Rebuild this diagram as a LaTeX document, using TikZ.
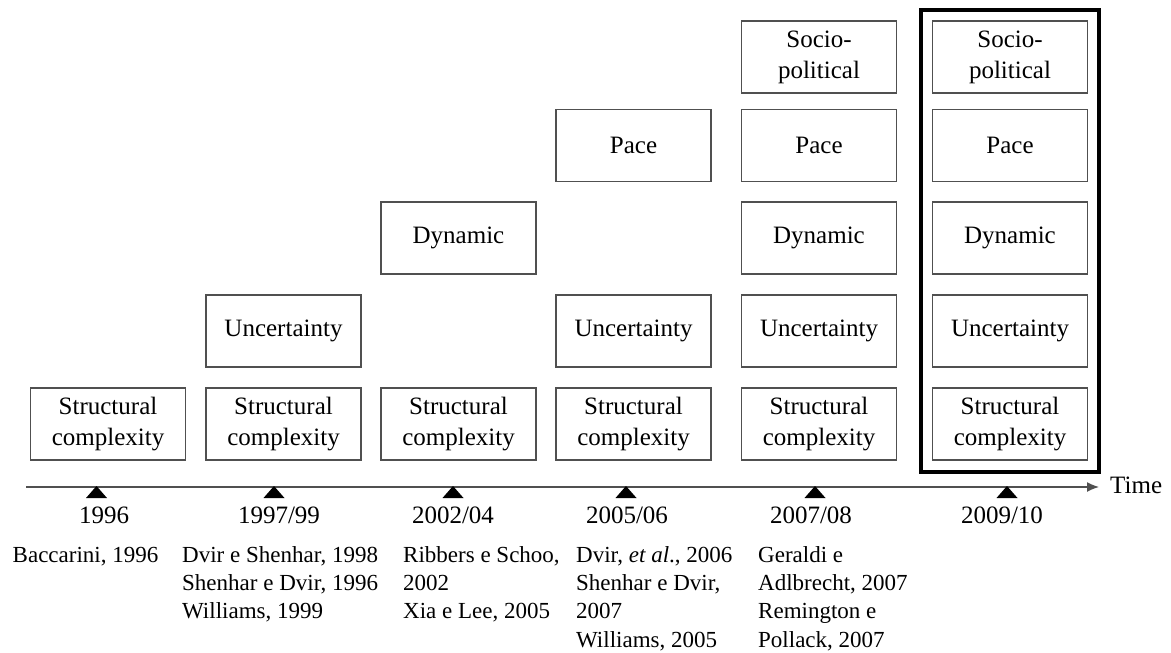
\documentclass[tikz,border=0pt]{standalone}
\usepackage{fontspec}
\setmainfont{Liberation Serif}
\usetikzlibrary{arrows.meta}
\definecolor{boxgray}{HTML}{505050}
\begin{document}
\begin{tikzpicture}[x=1pt,y=-1pt,
  box/.style={draw=boxgray, line width=1.4pt, minimum width=155pt, minimum height=72pt,
    inner sep=0pt, align=center, font=\fontsize{25}{31}\selectfont},
  yearlbl/.style={font=\fontsize{25}{30}\selectfont, anchor=base, inner sep=0pt},
  reflbl/.style={font=\fontsize{23}{28}\selectfont, anchor=base west, inner sep=0pt},
  tick/.style={fill=black},
  frame/.style={draw=black, line width=3.4pt},
  axis/.style={draw=boxgray, line width=1.4pt, -{Latex[length=12pt,width=10pt]}}]
\useasboundingbox (0,0) rectangle (1171,653);

% frame around last column
\draw[frame] (921,10) rectangle (1099,472);

% column 1
\node[box] (s1) at (108,424) {Structural\\complexity};
% column 2
\node[box] (s2) at (283.5,424) {Structural\\complexity};
\node[box] (u2) at (283.5,331) {Uncertainty};
% column 3
\node[box] (s3) at (458.5,424) {Structural\\complexity};
\node[box] (d3) at (458.5,238) {Dynamic};
% column 4
\node[box] (s4) at (633.5,424) {Structural\\complexity};
\node[box] (u4) at (633.5,331) {Uncertainty};
\node[box] (p4) at (633.5,145.5) {Pace};
% column 5
\node[box] (s5) at (819,424) {Structural\\complexity};
\node[box] (u5) at (819,331) {Uncertainty};
\node[box] (d5) at (819,238) {Dynamic};
\node[box] (p5) at (819,145.5) {Pace};
\node[box] (o5) at (819,57) {Socio-\\political};
% column 6
\node[box] (s6) at (1010,424) {Structural\\complexity};
\node[box] (u6) at (1010,331) {Uncertainty};
\node[box] (d6) at (1010,238) {Dynamic};
\node[box] (p6) at (1010,145.5) {Pace};
\node[box] (o6) at (1010,57) {Socio-\\political};

% time axis
\coordinate (ax0) at (26,487);
\coordinate (ax1) at (1099,487);
\draw[axis] (ax0) -- (ax1);
\node[font=\fontsize{25}{30}\selectfont, anchor=base west, inner sep=0pt] (time) at (1110,493) {Time};

% ticks
\foreach \x in {96.5,274,453,626,815,1007}{
  \fill[tick] (\x,486) -- (\x+10.5,498) -- (\x-10.5,498) -- cycle;
}

% years
\node[yearlbl] (y1) at (104,523) {1996};
\node[yearlbl] (y2) at (279,523) {1997/99};
\node[yearlbl] (y3) at (453,523) {2002/04};
\node[yearlbl] (y4) at (627,523) {2005/06};
\node[yearlbl] (y5) at (811,523) {2007/08};
\node[yearlbl] (y6) at (1002,523) {2009/10};

% references
\node[reflbl] (r1a) at (12.5,562) {Baccarini, 1996};

\node[reflbl] (r2a) at (182,562) {Dvir e Shenhar, 1998};
\node[reflbl] (r2b) at (182,590) {Shenhar e Dvir, 1996};
\node[reflbl] (r2c) at (182,618) {Williams, 1999};

\node[reflbl] (r3a) at (403,562) {Ribbers e Schoo,};
\node[reflbl] (r3b) at (403,590) {2002};
\node[reflbl] (r3c) at (403,618) {Xia e Lee, 2005};

\node[reflbl] (r4a) at (576,562) {Dvir, \textit{et al}., 2006};
\node[reflbl] (r4b) at (576,590) {Shenhar e Dvir,};
\node[reflbl] (r4c) at (576,618) {2007};
\node[reflbl] (r4d) at (576,647) {Williams, 2005};

\node[reflbl] (r5a) at (758,562) {Geraldi e};
\node[reflbl] (r5b) at (758,590) {Adlbrecht, 2007};
\node[reflbl] (r5c) at (758,618) {Remington e};
\node[reflbl] (r5d) at (758,647) {Pollack, 2007};
\end{tikzpicture}
\end{document}
